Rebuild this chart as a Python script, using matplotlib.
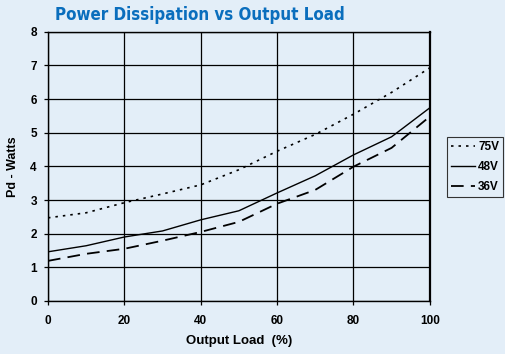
import matplotlib.pyplot as plt

# Power dissipation vs output load, three input voltages
load = [0, 10, 20, 30, 40, 50, 60, 70, 80, 90, 100]
pd_75v = [2.47, 2.62, 2.92, 3.18, 3.45, 3.9, 4.45, 4.95, 5.55, 6.2, 6.93]
pd_48v = [1.46, 1.64, 1.9, 2.08, 2.41, 2.68, 3.21, 3.72, 4.34, 4.88, 5.74]
pd_36v = [1.19, 1.4, 1.55, 1.79, 2.05, 2.35, 2.89, 3.3, 3.99, 4.55, 5.48]

bg = "#E3EEF8"

plt.rcParams["font.family"] = ["Liberation Sans", "DejaVu Sans"]

fig = plt.figure(figsize=(5.05, 3.54), dpi=100, facecolor=bg)
ax = fig.add_axes([0.095, 0.150, 0.756, 0.760], facecolor=bg)

ax.plot(load, pd_75v, color="black", lw=1.2, ls=(0, (1.5, 3)), label="75V")
ax.plot(load, pd_48v, color="black", lw=1.0, ls="-", label="48V")
ax.plot(load, pd_36v, color="black", lw=1.3, ls=(0, (7, 4)), label="36V")

ax.set_xlim(0, 100)
ax.set_ylim(0, 8)
ax.set_xticks(range(0, 101, 20))
ax.set_yticks(range(0, 9))
ax.grid(True, color="black", lw=0.9)
ax.tick_params(labelsize=8.5, length=3, width=0.9, colors="black")
ax.tick_params(axis="x", pad=7)
ax.tick_params(axis="y", pad=5)
for lbl in ax.get_xticklabels() + ax.get_yticklabels():
    lbl.set_fontweight("bold")
for side in ["left", "right", "bottom", "top"]:
    ax.spines[side].set_linewidth(1.0)
ax.spines["right"].set_linewidth(1.6)

ax.set_xlabel("Output Load  (%)", fontsize=9.5, fontweight="bold", labelpad=6)
ax.set_ylabel("Pd - Watts", fontsize=9, fontweight="bold", labelpad=8)

fig.text(0.108, 0.957, "Power Dissipation vs Output Load", family="DejaVu Sans",
         fontstretch="condensed", fontsize=12.2, fontweight="bold",
         color="#0A6EBD", va="center", ha="left")

leg = ax.legend(loc="upper left", bbox_to_anchor=(1.045, 0.608), frameon=True,
                fancybox=False, edgecolor="#333333", facecolor=bg, framealpha=1,
                prop={"weight": "bold", "size": 8.5}, handlelength=2.0,
                handletextpad=0.3, borderpad=0.35, labelspacing=0.65, borderaxespad=0)
leg.get_frame().set_linewidth(0.8)

fig.savefig("out.png", dpi=100, facecolor=bg)
